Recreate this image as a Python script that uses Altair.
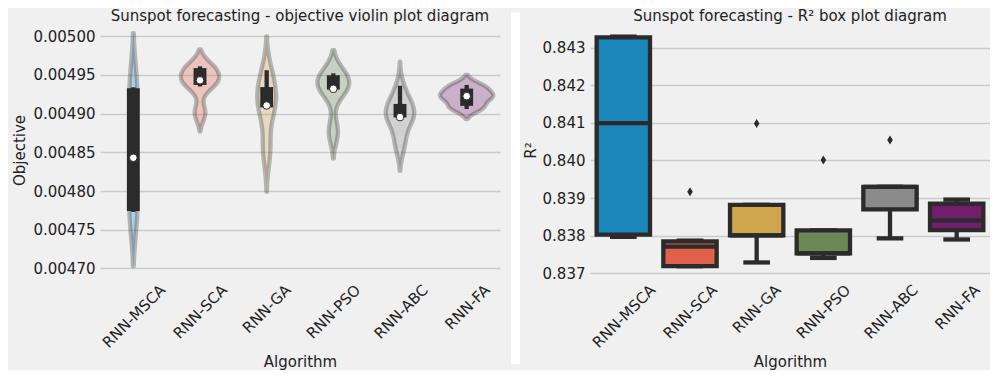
import json
import altair as alt
import pandas as pd

# ---------------- data ----------------
algorithms = ["RNN-MSCA", "RNN-SCA", "RNN-GA", "RNN-PSO", "RNN-ABC", "RNN-FA"]

# objective values of the runs (left panel, violins)
obj_msca = [0.004773, 0.004773, 0.004773, 0.004774, 0.004774, 0.004774, 0.004774, 0.004774, 0.004775,
            0.004785, 0.004798, 0.004812, 0.004825, 0.004834, 0.004840, 0.004846, 0.004858, 0.004872,
            0.004889, 0.004905, 0.004920, 0.004932, 0.004933, 0.004933, 0.004933, 0.004933, 0.004934,
            0.004934, 0.004934, 0.004934]
obj_sca = [0.004899, 0.004900, 0.004901, 0.004902, 0.004903, 0.004935, 0.004936, 0.004937, 0.004937,
           0.004938, 0.004939, 0.004940, 0.004941, 0.004942, 0.004943, 0.004943, 0.004945, 0.004947,
           0.004949, 0.004951, 0.004953, 0.004958, 0.004959, 0.004959, 0.004959, 0.004960, 0.004960,
           0.004960, 0.004960, 0.004961]
obj_ga = [0.004843, 0.004846, 0.004850, 0.004854, 0.004858, 0.004862, 0.004867, 0.004908, 0.004908,
          0.004909, 0.004909, 0.004909, 0.004910, 0.004910, 0.004910, 0.004911, 0.004913, 0.004917,
          0.004921, 0.004926, 0.004931, 0.004932, 0.004935, 0.004940, 0.004944, 0.004947, 0.004950,
          0.004952, 0.004954, 0.004956]
obj_pso = [0.004872, 0.004873, 0.004875, 0.004877, 0.004879, 0.004882, 0.004930, 0.004931, 0.004931,
           0.004931, 0.004931, 0.004931, 0.004932, 0.004932, 0.004932, 0.004932, 0.004934, 0.004937,
           0.004940, 0.004943, 0.004946, 0.004948, 0.004950, 0.004950, 0.004950, 0.004951, 0.004951,
           0.004951, 0.004952, 0.004952]
obj_abc = [0.004857, 0.004859, 0.004861, 0.004863, 0.004865, 0.004867, 0.004894, 0.004895, 0.004895,
           0.004895, 0.004895, 0.004895, 0.004895, 0.004895, 0.004895, 0.004896, 0.004897, 0.004899,
           0.004901, 0.004904, 0.004907, 0.004911, 0.004913, 0.004914, 0.004916, 0.004919, 0.004922,
           0.004926, 0.004931, 0.004936]
obj_fa = [0.004906, 0.004907, 0.004907, 0.004908, 0.004908, 0.004908, 0.004908, 0.004908, 0.004916,
          0.004919, 0.004920, 0.004921, 0.004921, 0.004922, 0.004922, 0.004923, 0.004923, 0.004924,
          0.004924, 0.004925, 0.004926, 0.004927, 0.004934, 0.004934, 0.004935, 0.004935, 0.004935,
          0.004936, 0.004936, 0.004937]
obj_ticks = [0.00470, 0.00475, 0.00480, 0.00485, 0.00490, 0.00495, 0.00500]

# kernel bandwidth of each violin (read from the length of the tails)
violin_bandwidth = [35e-6, 11e-6, 22e-6, 15e-6, 15.5e-6, 6.5e-6]

# R^2 box plot summaries (right panel)
r2_q1 = [0.83803, 0.83719, 0.83801, 0.83753, 0.83870, 0.83815]
r2_med = [0.84099, 0.83771, 0.83801, 0.83753, 0.83930, 0.83841]
r2_q3 = [0.84327, 0.83785, 0.83882, 0.83814, 0.83930, 0.83885]
r2_lo = [0.83797, 0.83719, 0.83729, 0.83741, 0.83793, 0.83790]
r2_hi = [0.84329, 0.83787, 0.83882, 0.83814, 0.83930, 0.83896]
outlier_idx = [1, 2, 3, 4]
outlier_values = [0.83917, 0.84098, 0.84001, 0.84054]
r2_ticks = [0.837, 0.838, 0.839, 0.840, 0.841, 0.842, 0.843]

# ---------------- style ----------------
palette = ["#1a86ba", "#e2614a", "#cfa64e", "#6d8857", "#8b8b8b", "#731d6f"]
EDGE = "#2b2b2b"
BG = "#f0f0f0"
TEXT = "#222222"
GRID = "#cbcbcb"
FONT = "DejaVu Sans"
W, H = 400, 252
LW = 4.3

obj_samples = [obj_msca, obj_sca, obj_ga, obj_pso, obj_abc, obj_fa]
rows = []
for i, (name, vals) in enumerate(zip(algorithms, obj_samples)):
    for v in vals:
        rows.append({"Algorithm": name, "idx": i, "value": v, "bw": violin_bandwidth[i]})
df_obj = pd.DataFrame(rows)
z_hi = max((max(v) - min(v)) / b for v, b in zip(obj_samples, violin_bandwidth)) + 2.5

color_scale = alt.Scale(domain=algorithms, range=palette)
x_scale = alt.Scale(domain=[-0.5, 5.5], nice=False, zero=False)
label_offsets = [29, 24, 21, 24, 25, 20]
x_axis = alt.Axis(
    values=list(range(len(algorithms))),
    labelExpr=json.dumps(algorithms) + "[datum.value]",
    labelAngle=315, labelAlign="right", labelBaseline="middle",
    labelOffset={"condition": [{"test": f"datum.value === {i}", "value": o}
                               for i, o in enumerate(label_offsets)], "value": 0},
    labelPadding=11, labelOverlap=False, labelFlush=False,
    grid=False, ticks=False, domain=False, title="Algorithm", titlePadding=4,
)

# ---------------- left: violins ----------------
y_scale_l = alt.Scale(domain=[0.0046903, 0.0050157], nice=False, zero=False)
y_axis_l = alt.Axis(values=obj_ticks, format=".5f", title="Objective", grid=True, ticks=False,
                    domain=False, labelPadding=5, minExtent=67, maxExtent=67, titlePadding=6)

violin = (
    alt.Chart(df_obj)
    .transform_joinaggregate(vmin="min(value)", vmax="max(value)", groupby=["Algorithm"])
    .transform_calculate(z="(datum.value - datum.vmin) / datum.bw",
                         zmax="(datum.vmax - datum.vmin) / datum.bw")
    .transform_density("z", as_=["z", "density"], groupby=["Algorithm", "idx", "vmin", "bw", "zmax"],
                       bandwidth=1.0, extent=[-2.5, z_hi], steps=1500)
    .transform_filter("datum.z >= -2 && datum.z <= datum.zmax + 2")
    .transform_calculate(v="datum.vmin + datum.z * datum.bw", dens="datum.density / datum.bw")
    .transform_joinaggregate(dmax="max(dens)")
    .transform_calculate(lo="datum.idx - 0.4 * datum.dens / datum.dmax",
                         hi="datum.idx + 0.4 * datum.dens / datum.dmax")
    .mark_area(orient="horizontal", fillOpacity=0.3, stroke=EDGE, strokeOpacity=0.3,
               strokeWidth=LW, strokeJoin="round")
    .encode(
        y=alt.Y("v:Q", scale=y_scale_l, axis=y_axis_l),
        x=alt.X("lo:Q", scale=x_scale, axis=x_axis),
        x2="hi:Q",
        fill=alt.Fill("Algorithm:N", scale=color_scale, legend=None),
    )
)

stats = (
    alt.Chart(df_obj)
    .transform_joinaggregate(q1="q1(value)", q3="q3(value)", med="median(value)", groupby=["Algorithm"])
    .transform_calculate(lof="datum.q1 - 1.5 * (datum.q3 - datum.q1)",
                         hif="datum.q3 + 1.5 * (datum.q3 - datum.q1)")
    .transform_filter("datum.value >= datum.lof && datum.value <= datum.hif")
    .transform_aggregate(h1="min(value)", h2="max(value)", groupby=["Algorithm", "idx", "q1", "q3", "med"])
)
whisk = stats.mark_rule(color=EDGE, strokeWidth=LW).encode(
    x=alt.X("idx:Q", scale=x_scale, axis=x_axis),
    y=alt.Y("h1:Q", scale=y_scale_l, axis=y_axis_l), y2="h2:Q")
ibox = stats.mark_rule(color=EDGE, strokeWidth=3 * LW).encode(
    x=alt.X("idx:Q", scale=x_scale, axis=x_axis),
    y=alt.Y("q1:Q", scale=y_scale_l, axis=y_axis_l), y2="q3:Q")
dot = stats.mark_point(filled=True, fill="white", stroke=EDGE, strokeWidth=1, size=58, opacity=1).encode(
    x=alt.X("idx:Q", scale=x_scale, axis=x_axis),
    y=alt.Y("med:Q", scale=y_scale_l, axis=y_axis_l))

left = alt.layer(violin, whisk, ibox, dot).properties(
    width=W, height=H, title=alt.TitleParams("Sunspot forecasting - objective violin plot diagram", offset=0))

# ---------------- right: box plots ----------------
df_r2 = pd.DataFrame({"Algorithm": algorithms, "idx": list(range(len(algorithms))), "q1": r2_q1,
                      "med": r2_med, "q3": r2_q3, "lo": r2_lo, "hi": r2_hi})
df_fl = pd.DataFrame({"idx": outlier_idx, "value": outlier_values})

y_scale_r = alt.Scale(domain=[0.83693, 0.843625], nice=False, zero=False)
y_axis_r = alt.Axis(values=r2_ticks, format=".3f", title="R²", grid=True, ticks=False, domain=False,
                    labelPadding=5, minExtent=46, maxExtent=46, titlePadding=6)

base_r = alt.Chart(df_r2).transform_calculate(
    bx1="datum.idx - 0.4", bx2="datum.idx + 0.4", cx1="datum.idx - 0.2", cx2="datum.idx + 0.2")

def X(f):
    return alt.X(f, scale=x_scale, axis=x_axis)

def Y(f):
    return alt.Y(f, scale=y_scale_r, axis=y_axis_r)

w_lo = base_r.mark_rule(color=EDGE, strokeWidth=LW).encode(x=X("idx:Q"), y=Y("lo:Q"), y2="q1:Q")
w_hi = base_r.mark_rule(color=EDGE, strokeWidth=LW).encode(x=X("idx:Q"), y=Y("q3:Q"), y2="hi:Q")
c_lo = base_r.mark_rule(color=EDGE, strokeWidth=LW).encode(x=X("cx1:Q"), x2="cx2:Q", y=Y("lo:Q"))
c_hi = base_r.mark_rule(color=EDGE, strokeWidth=LW).encode(x=X("cx1:Q"), x2="cx2:Q", y=Y("hi:Q"))
boxes = base_r.mark_bar(stroke=EDGE, strokeWidth=LW, opacity=1).encode(
    x=X("bx1:Q"), x2="bx2:Q", y=Y("q1:Q"), y2="q3:Q",
    fill=alt.Fill("Algorithm:N", scale=color_scale, legend=None))
meds = base_r.mark_rule(color=EDGE, strokeWidth=LW).encode(x=X("bx1:Q"), x2="bx2:Q", y=Y("med:Q"))
fliers = alt.Chart(df_fl).mark_point(shape="M0,-1L0.62,0L0,1L-0.62,0Z", filled=True, color=EDGE,
                                     size=81, opacity=1).encode(x=X("idx:Q"), y=Y("value:Q"))
# white separator strip between the two panels
sep = alt.Chart(alt.Data(values=[{"a": 1}])).mark_rule(color="white", strokeWidth=9).encode(
    x=alt.value(-74.5), y=alt.value(-11.5), y2=alt.value(H + 88))

right = alt.layer(w_lo, w_hi, c_lo, c_hi, boxes, meds, fliers, sep).properties(
    width=W, height=H, title=alt.TitleParams("Sunspot forecasting - R² box plot diagram", offset=-16))

chart = (
    alt.hconcat(left, right, spacing=11)
    .properties(background=BG, padding={"left": 4, "top": 0, "right": 0, "bottom": 0})
    .configure_axis(labelFont=FONT, titleFont=FONT, labelFontSize=15, titleFontSize=15,
                    labelColor=TEXT, titleColor=TEXT, gridColor=GRID, gridWidth=1.3,
                    titleFontWeight="normal")
    .configure_view(stroke=None)
    .configure_title(font=FONT, fontSize=15, fontWeight="normal", color=TEXT, offset=3)
)

chart.save("out.html", embed_options={"renderer": "svg", "actions": False})
